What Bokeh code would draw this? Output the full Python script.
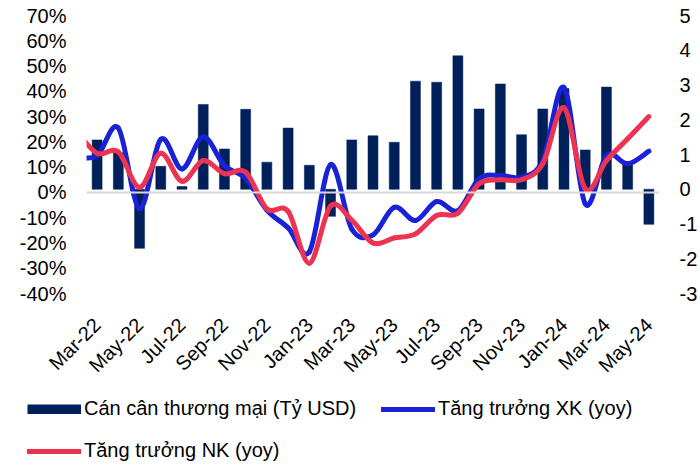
import math
from bokeh.plotting import figure
from bokeh.models import (Range1d, LinearAxis, FixedTicker, PrintfTickFormatter,
                          Span, Legend, LegendItem, ColumnDataSource)
from bokeh.embed import file_html
from bokeh.resources import INLINE

# ---------------- data ----------------
months = ["Mar-22", "Apr-22", "May-22", "Jun-22", "Jul-22", "Aug-22", "Sep-22",
          "Oct-22", "Nov-22", "Dec-22", "Jan-23", "Feb-23", "Mar-23", "Apr-23",
          "May-23", "Jun-23", "Jul-23", "Aug-23", "Sep-23", "Oct-23", "Nov-23",
          "Dec-23", "Jan-24", "Feb-24", "Mar-24", "Apr-24", "May-24"]

# Cán cân thương mại (Tỷ USD) - right axis
trade_balance = [1.42, 1.05, -1.70, 0.66, 0.08, 2.44, 1.16, 2.30, 0.78, 1.76,
                 0.69, -0.78, 1.42, 1.54, 1.35, 3.11, 3.08, 3.84, 2.31, 3.03,
                 1.57, 2.31, 2.90, 1.13, 2.94, 0.80, -1.01]

# Tăng trưởng XK (yoy), %  - left axis
export_growth = [14.5, 25.5, -6.5, 21.0, 9.3, 22.0, 10.6, 5.5, -7.0, -14.0,
                 -23.5, 11.0, -14.5, -16.8, -5.9, -11.1, -3.6, -7.2, 5.4, 6.7,
                 6.0, 12.6, 41.5, -4.5, 14.6, 11.3, 16.3]

# Tăng trưởng NK (yoy), %  - left axis
import_growth = [15.5, 16.0, 2.0, 15.5, 4.4, 12.6, 7.4, 8.0, -6.5, -7.5,
                 -28.0, -5.4, -11.0, -20.0, -18.0, -16.4, -9.1, -8.2, 3.4, 5.0,
                 5.0, 11.3, 33.5, 1.4, 12.6, 21.2, 30.0]

# Feb-22 values (the lines enter the plot from the left edge)
prev_month = "Feb-22"
prev_export_growth = 14.0
prev_import_growth = 24.5

tick_months = months[::2]

legend_labels = ["Cán cân thương mại (Tỷ USD)", "Tăng trưởng XK (yoy)",
                 "Tăng trưởng NK (yoy)"]

# ---------------- styling ----------------
FONT = "Liberation Sans"
NAVY = "#00205b"
BLUE = "#1a22d6"
RED = "#ec3452"

n = len(months)
idx = list(range(n))

p = figure(width=700, height=390, output_backend="svg", toolbar_location=None,
           x_range=Range1d(-0.5, n - 0.5), y_range=Range1d(-40, 70),
           min_border_left=86, min_border_right=38, min_border_top=15,
           min_border_bottom=97)
p.outline_line_color = None
p.background_fill_color = "white"
p.border_fill_color = "white"
p.xgrid.visible = False
p.ygrid.visible = False
p.extra_y_ranges = {"bal": Range1d(-3, 5)}

# axes
p.yaxis.ticker = FixedTicker(ticks=list(range(-40, 71, 10)))
p.yaxis.formatter = PrintfTickFormatter(format="%d%%")
right = LinearAxis(y_range_name="bal", ticker=FixedTicker(ticks=list(range(-3, 6))),
                   formatter=PrintfTickFormatter(format="%d"))
p.add_layout(right, "right")

p.xaxis.ticker = FixedTicker(ticks=[months.index(m) for m in tick_months])
p.xaxis.major_label_overrides = {months.index(m): m for m in tick_months}
p.xaxis.major_label_orientation = math.pi / 4

for ax in [p.xaxis[0], p.yaxis[0], right]:
    ax.axis_line_color = None
    ax.major_tick_line_color = None
    ax.minor_tick_line_color = None
    ax.major_tick_in = 0
    ax.major_tick_out = 0
    ax.major_label_text_font = FONT
    ax.major_label_text_font_size = "20px"
    ax.major_label_text_color = "#000000"
p.yaxis[0].major_label_standoff = 20
right.major_label_standoff = 20
right.major_label_text_align = "left"
p.xaxis[0].major_label_standoff = 28

# zero line (category axis)
p.add_layout(Span(location=0, dimension="width", line_color="#d9d9d9", line_width=2))

# bars
bars = p.vbar(x=idx, top=trade_balance, width=0.47, y_range_name="bal",
              fill_color=NAVY, line_color=NAVY, line_width=0.5)


def smooth_segments(xs, ys):
    """Bezier segments through the data points (spreadsheet-style smoothing)."""
    d = dict(x0=[], y0=[], x1=[], y1=[], cx0=[], cy0=[], cx1=[], cy1=[])
    m = len(xs)
    for i in range(m - 1):
        i0 = max(i - 1, 0)
        i3 = min(i + 2, m - 1)
        d["x0"].append(xs[i]); d["y0"].append(ys[i])
        d["x1"].append(xs[i + 1]); d["y1"].append(ys[i + 1])
        d["cx0"].append(xs[i] + (xs[i + 1] - xs[i0]) / 6)
        d["cy0"].append(ys[i] + (ys[i + 1] - ys[i0]) / 6)
        d["cx1"].append(xs[i + 1] - (xs[i3] - xs[i]) / 6)
        d["cy1"].append(ys[i + 1] - (ys[i3] - ys[i]) / 6)
    return ColumnDataSource(d)


line_x = [-1] + idx
xk = p.bezier(source=smooth_segments(line_x, [prev_export_growth] + export_growth),
              x0="x0", y0="y0", x1="x1", y1="y1", cx0="cx0", cy0="cy0",
              cx1="cx1", cy1="cy1", line_color=BLUE, line_width=5, line_cap="round")
nk = p.bezier(source=smooth_segments(line_x, [prev_import_growth] + import_growth),
              x0="x0", y0="y0", x1="x1", y1="y1", cx0="cx0", cy0="cy0",
              cx1="cx1", cy1="cy1", line_color=RED, line_width=5, line_cap="round")

# ---------------- legend (own strip under the chart) ----------------
lg = figure(width=700, height=75, output_backend="svg", toolbar_location=None,
            x_range=Range1d(0, 1), y_range=Range1d(0, 1),
            x_axis_location=None, y_axis_location=None, min_border=0)
lg.outline_line_color = None
lg.xgrid.visible = False
lg.ygrid.visible = False

nan = [float("nan")]
bar_proxy = lg.line(x=nan, y=nan, line_color=NAVY, line_width=10, line_cap="butt")
xk_proxy = lg.line(x=nan, y=nan, line_color=BLUE, line_width=5, line_cap="round")
nk_proxy = lg.line(x=nan, y=nan, line_color=RED, line_width=5, line_cap="round")

legend = Legend(items=[LegendItem(label=legend_labels[0], renderers=[bar_proxy]),
                       LegendItem(label=legend_labels[1], renderers=[xk_proxy]),
                       LegendItem(label=legend_labels[2], renderers=[nk_proxy])],
                orientation="horizontal", ncols=2, location=(27, 3),
                glyph_width=54, glyph_height=10, label_standoff=3, spacing=19,
                label_width=278,
                padding=0, margin=0, border_line_color=None, background_fill_alpha=0,
                label_text_font=FONT, label_text_font_size="20px",
                label_text_color="#000000")
lg.add_layout(legend, "center")

open("out.html", "w").write(file_html([p, lg], INLINE))
